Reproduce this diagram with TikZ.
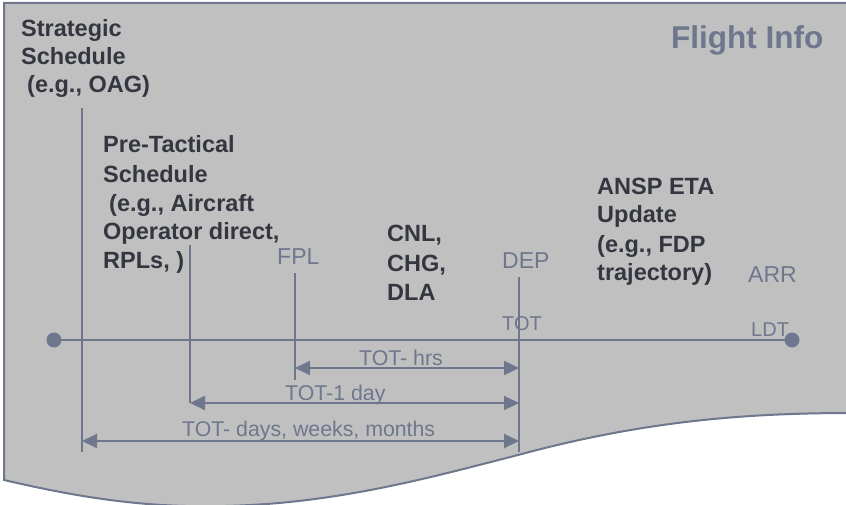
\documentclass[tikz,border=0pt]{standalone}
\usepackage{fontspec}
\setmainfont{Liberation Sans}
\usetikzlibrary{arrows.meta}
\definecolor{slate}{RGB}{110,119,140}
\definecolor{darktxt}{RGB}{52,54,64}
\definecolor{silverfill}{RGB}{192,192,192}
\begin{document}
\begin{tikzpicture}[x=1pt,y=-1pt,
  bold/.style={anchor=base west,inner sep=0pt,text=darktxt,font=\fontsize{23.5}{28}\selectfont\bfseries},
  glabel/.style={anchor=base west,inner sep=0pt,text=slate,font=\fontsize{23}{28}\selectfont},
  slabel/.style={anchor=base west,inner sep=0pt,text=slate,font=\fontsize{20}{24}\selectfont},
  alabel/.style={anchor=base west,inner sep=0pt,text=slate,font=\fontsize{21.3}{26}\selectfont},
  tline/.style={draw=slate,line width=2pt},
  dim/.style={draw=slate,line width=2pt,{Triangle[length=15pt,width=14pt]}-{Triangle[length=15pt,width=14pt]}},
  dot/.style={circle,fill=slate,inner sep=0pt,minimum size=15pt}]
\useasboundingbox (0,0) rectangle (846,505);
\clip (0,0) rectangle (846,505);
% background sheet
\draw[fill=silverfill,draw=slate,line width=2pt]
  (4,3) -- (852,3) -- (852,413)
  .. controls (740,413) and (640,422) .. (518,455)
  .. controls (440,475) and (350,500) .. (250,505)
  .. controls (160,510) and (90,500) .. (4,480) -- cycle;
% title
\node[anchor=base west,inner sep=0pt,text=slate,font=\fontsize{31.5}{36}\selectfont\bfseries] (title) at (671,49) {Flight Info};
% strategic
\node[bold] (ss1) at (21,37) {Strategic};
\node[bold] (ss2) at (21,65) {Schedule};
\node[bold] (ss3) at (27,93) {(e.g., OAG)};
% pre-tactical
\node[bold] (pt1) at (103,153) {Pre-Tactical};
\node[bold] (pt2) at (103,183) {Schedule};
\node[bold] (pt3) at (109,212) {(e.g., Aircraft};
\node[bold] (pt4) at (103,240) {Operator direct,};
\node[bold] (pt5) at (103,268) {RPLs, )};
% CNL
\node[bold] (cn1) at (387,242) {CNL,};
\node[bold] (cn2) at (387,272) {CHG,};
\node[bold] (cn3) at (387,300) {DLA};
% ANSP
\node[bold] (an1) at (597,195) {ANSP ETA};
\node[bold] (an2) at (597,223) {Update};
\node[bold] (an3) at (597,252) {(e.g., FDP};
\node[bold] (an4) at (597,280) {trajectory)};
% gray labels
\node[glabel] (fpl) at (277,265) {FPL};
\node[glabel] (dep) at (502,268) {DEP};
\node[glabel] (arr) at (748,282) {ARR};
\node[slabel] (tot) at (502,330) {TOT};
\node[slabel] (ldt) at (751,336) {LDT};
% coordinates
\coordinate (sT) at (82,108);  \coordinate (sB) at (82,452);
\coordinate (pT) at (190,245); \coordinate (pB) at (190,403);
\coordinate (fT) at (295,273); \coordinate (fB) at (295,380);
\coordinate (dT) at (519,277); \coordinate (dB) at (519,452);
\coordinate (a1L) at (295,368); \coordinate (a1R) at (519,368);
\coordinate (a2L) at (190,403); \coordinate (a2R) at (519,403);
\coordinate (a3L) at (82,441);  \coordinate (a3R) at (519,441);
% timeline
\node[dot] (d1) at (54,340) {};
\node[dot] (d2) at (792,340) {};
\draw[tline] (d1.center) -- (d2.center);
\draw[tline] (sT) -- (sB);
\draw[tline] (pT) -- (pB);
\draw[tline] (fT) -- (fB);
\draw[tline] (dT) -- (dB);
% dimension arrows
\draw[dim] (a1L) -- (a1R);
\draw[dim] (a2L) -- (a2R);
\draw[dim] (a3L) -- (a3R);
\node[alabel] (l1) at (359,365) {TOT- hrs};
\node[alabel] (l2) at (285,400) {TOT-1 day};
\node[alabel] (l3) at (182,436) {TOT- days, weeks, months};
\end{tikzpicture}
\end{document}
